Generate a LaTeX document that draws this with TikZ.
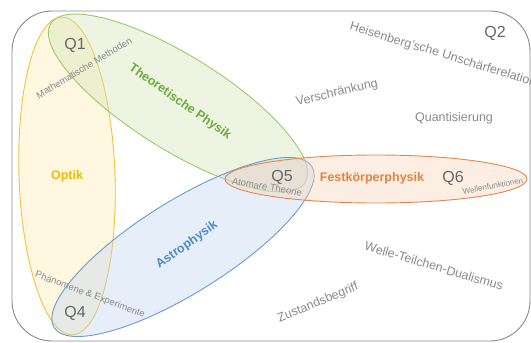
\documentclass[tikz,border=0pt]{standalone}
\usepackage{fontspec}
\setmainfont{Liberation Sans}
\usetikzlibrary{arrows}

\definecolor{optikline}{HTML}{F2C23A}
\definecolor{optikfill}{HTML}{FFE9AE}
\definecolor{optiktext}{HTML}{F4B800}
\definecolor{theoline}{HTML}{9CC96B}
\definecolor{theofill}{HTML}{CFE6B4}
\definecolor{theotext}{HTML}{6CAA3E}
\definecolor{astroline}{HTML}{6A9AD0}
\definecolor{astrofill}{HTML}{BDD5EE}
\definecolor{astrotext}{HTML}{4F8BCB}
\definecolor{festline}{HTML}{E6854A}
\definecolor{festfill}{HTML}{F9D3B8}
\definecolor{festtext}{HTML}{E8813F}
\definecolor{wordgray}{HTML}{8A8A8A}
\definecolor{qgray}{HTML}{666666}

\begin{document}
\begin{tikzpicture}[x=1pt, y=-1pt,
  area/.style={line width=0.9pt, fill opacity=0.38},
  topic/.style={font=\fontsize{12.5}{14}\selectfont\bfseries, inner sep=0pt},
  keyword/.style={font=\fontsize{12.5}{14}\selectfont, text=wordgray, inner sep=0pt},
  smallword/.style={font=\fontsize{9.5}{11}\selectfont, text=wordgray, inner sep=0pt},
  quadrant/.style={font=\fontsize{16}{18}\selectfont, text=qgray, inner sep=0pt}]

\useasboundingbox (0,0) rectangle (531,343);

% frame
\draw[wordgray, line width=0.9pt, rounded corners=40pt] (12,11) rectangle (530,341);

% fields
\draw[area, draw=optikline, fill=optikfill, rotate around={2:(67,176)}] (67,176) ellipse (48pt and 159pt);
\draw[area, draw=theoline, fill=theofill, rotate around={-32:(178,103)}] (178,103) ellipse (150pt and 47pt);
\draw[area, draw=astroline, fill=astrofill, rotate around={32:(183,247)}] (183,247) ellipse (152pt and 46pt);
\draw[area, draw=festline, fill=festfill] (376,179) ellipse (151pt and 24pt);

\node[topic, text=optiktext] (optik) at (67,176) {Optik};
\node[topic, text=theotext, rotate=-35] (theo) at (180,102) {Theoretische Physik};
\node[topic, text=astrotext, rotate=35] (astro) at (187,245) {Astrophysik};
\node[topic, text=festtext] (fest) at (372,178) {Festkörperphysik};

\node[quadrant] (q1) at (75,45) {Q1};
\node[quadrant] (q2) at (495,33) {Q2};
\node[quadrant] (q4) at (75,313) {Q4};
\node[quadrant] (q5) at (282,177) {Q5};
\node[quadrant] (q6) at (453,178) {Q6};

\node[smallword, rotate=31] (mathe) at (84,68) {Mathematische Methoden};
\node[smallword, rotate=-20.5] (phaen) at (90,295) {Phänomene \& Experimente};
\node[smallword, rotate=-10] (atom) at (267,187) {Atomare Theorie};
\node[smallword, font=\fontsize{8}{9}\selectfont, rotate=10.5] (wellenf) at (493,186) {Wellenfunktionen};

\node[keyword, rotate=-17] (heis) at (443,55) {Heisenberg'sche Unschärferelation};
\node[keyword, rotate=13.5] (versch) at (337,93) {Verschränkung};
\node[keyword] (quant) at (454,118) {Quantisierung};
\node[keyword, rotate=-16.5] (welle) at (434,266) {Welle-Teilchen-Dualismus};
\node[keyword, rotate=22.5] (zust) at (318,303) {Zustandsbegriff};

\end{tikzpicture}
\end{document}
